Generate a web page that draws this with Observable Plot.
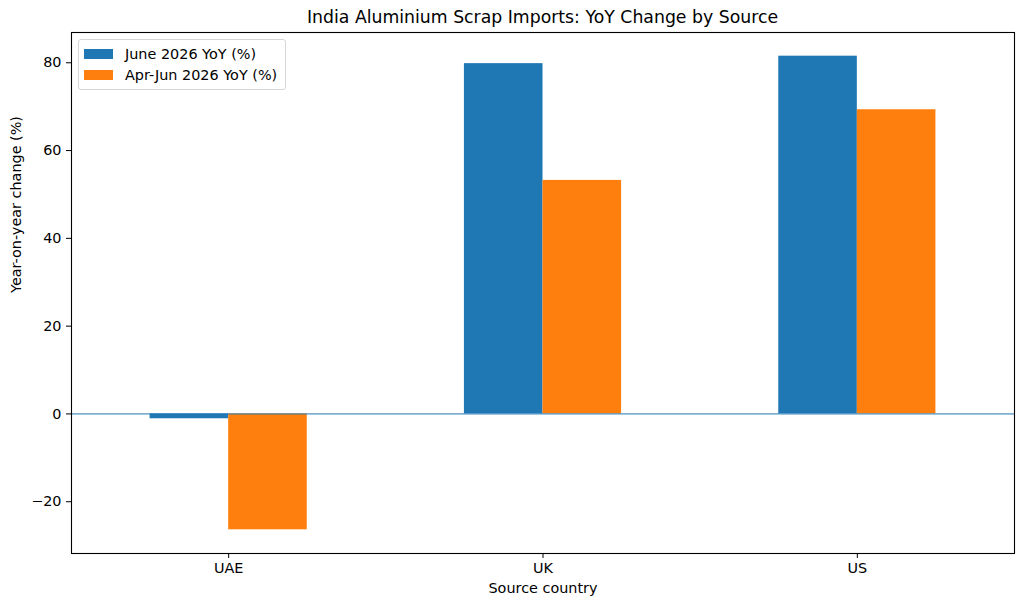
<!DOCTYPE html>
<html>
<head>
<meta charset="utf-8">
<script src="https://cdn.jsdelivr.net/npm/d3@7"></script>
<script src="https://cdn.jsdelivr.net/npm/@observablehq/plot@0.6"></script>
<style>
  html, body { margin: 0; padding: 0; background: #fff; }
  #wrap { position: relative; width: 1024px; height: 609px; font-family: "DejaVu Sans", sans-serif; color: #000; }
  #title { height: 25px; position: relative; }
  #title span { position: absolute; left: 71px; width: 943px; top: 7px; text-align: center; font-size: 17.3px; }
  #legend { position: absolute; left: 78px; top: 39px; white-space: nowrap; border: 1px solid #d6d6d6; border-radius: 3px; background: rgba(255,255,255,0.8); padding: 3px 8px 3px 5px; font-size: 14.4px; }
  .item { display: flex; align-items: center; height: 21.5px; }
  .sw { width: 29px; height: 10px; margin-right: 12px; flex: none; }
  svg { display: block; }
</style>
</head>
<body>
<div id="wrap">
  <div id="title"><span>India Aluminium Scrap Imports: YoY Change by Source</span></div>
  <div id="chart"></div>
  <div id="legend"></div>
</div>
<script>
const countries = ["UAE", "UK", "US"];
const seriesNames = ["June 2026 YoY (%)", "Apr-Jun 2026 YoY (%)"];
const juneYoY = [-1.1, 79.8, 81.5];
const aprJunYoY = [-26.4, 53.2, 69.3];
const seriesColors = ["#1f77b4", "#ff7f0e"];
const yTicks = [-20, 0, 20, 40, 60, 80];

const barWidth = 0.25;
const rows = [];
[juneYoY, aprJunYoY].forEach((vals, j) => {
  vals.forEach((v, i) => {
    rows.push({
      country: countries[i],
      series: seriesNames[j],
      x1: i - barWidth + j * barWidth,
      x2: i + j * barWidth,
      value: v
    });
  });
});

const allVals = juneYoY.concat(aprJunYoY);
const lo = Math.min(0, d3.min(allVals)), hi = Math.max(0, d3.max(allVals));
const pad = (hi - lo) * 0.05;

const plot = Plot.plot({
  width: 1024,
  height: 584,
  marginTop: 7,
  marginBottom: 56,
  marginLeft: 71,
  marginRight: 10,
  style: { fontFamily: "DejaVu Sans, sans-serif", fontSize: "14.4px", color: "#000", background: "#fff" },
  x: { domain: [-0.5, countries.length - 0.5], label: null },
  y: { domain: [lo - pad, hi + pad], label: null },
  color: { domain: seriesNames, range: seriesColors },
  marks: [
    Plot.rectY(rows, { x1: "x1", x2: "x2", y1: 0, y2: "value", fill: "series" }),
    Plot.ruleY([0], { stroke: "#1f77b4", strokeWidth: 1 }),
    Plot.frame({ stroke: "#000", strokeWidth: 1.1 }),
    Plot.axisX({ ticks: d3.range(countries.length), tickFormat: i => countries[i], tickSize: 5, tickPadding: 4, label: null, fontSize: 14.4 }),
    Plot.axisY({ ticks: yTicks, tickFormat: d => d < 0 ? "\u2212" + Math.abs(d) : String(d), tickSize: 5, tickPadding: 5, label: null, fontSize: 14.4 }),
    Plot.text(["Source country"], { frameAnchor: "bottom", dy: 39, fontSize: 14.4, fill: "#000" }),
    Plot.text(["Year-on-year change (%)"], { frameAnchor: "left", dx: -55, rotate: -90, fontSize: 14.4, fill: "#000" })
  ]
});
document.getElementById("chart").appendChild(plot);

const legend = document.getElementById("legend");
seriesNames.forEach((name, j) => {
  const it = document.createElement("div");
  it.className = "item";
  const sw = document.createElement("div");
  sw.className = "sw";
  sw.style.background = seriesColors[j];
  const t = document.createElement("span");
  t.textContent = name;
  it.appendChild(sw); it.appendChild(t);
  legend.appendChild(it);
});
</script>
</body>
</html>
